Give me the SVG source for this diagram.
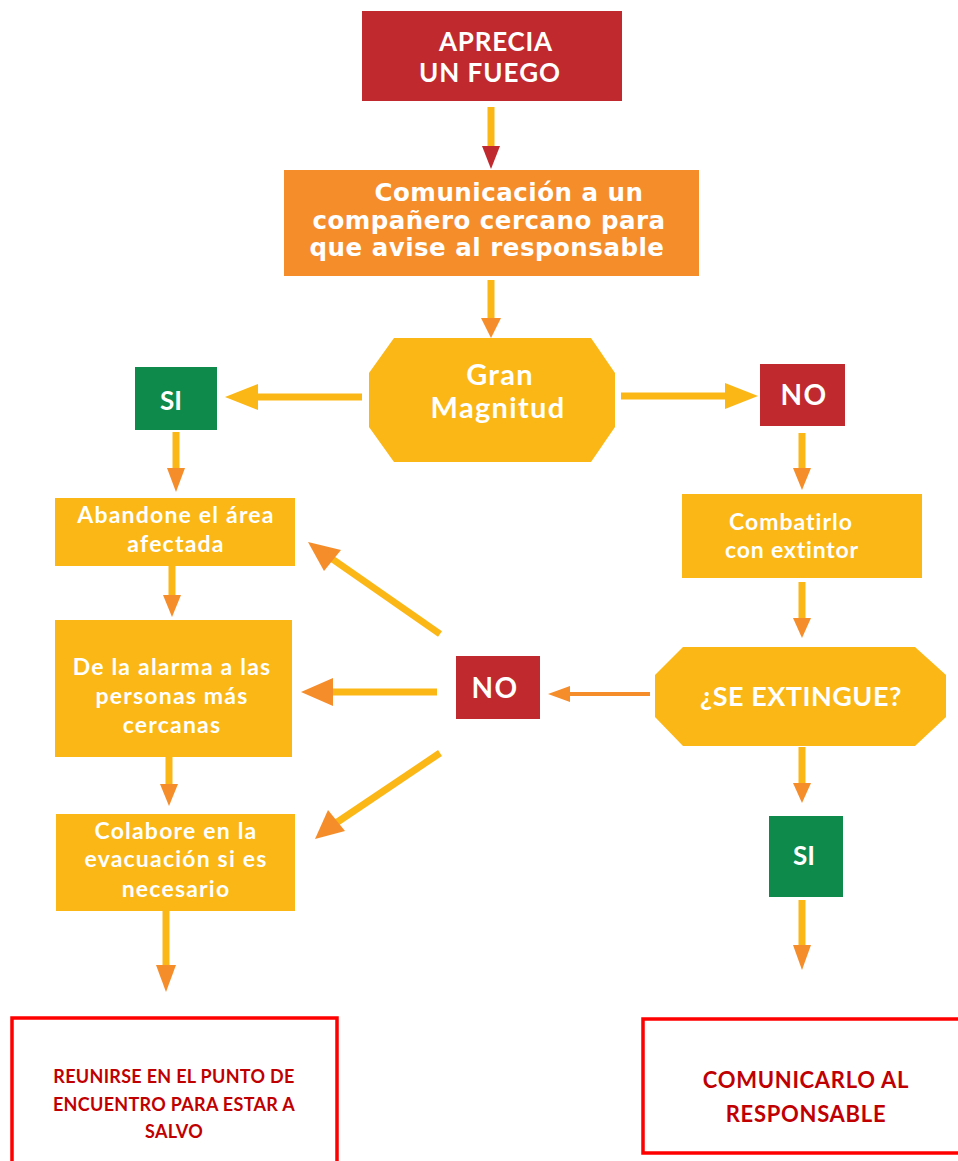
<svg xmlns="http://www.w3.org/2000/svg" width="958" height="1161" viewBox="0 0 958 1161">
<style>
.red{fill:#C0292E}
.org{fill:#F58D2B}
.yel{fill:#FBB715}
.grn{fill:#0E8A4A}
.out{fill:#fff;stroke:#FF0000;stroke-width:3.5}
.t{font-family:Lato,"Open Sans","Liberation Sans",sans-serif;font-weight:bold;fill:#fff;text-anchor:middle}
.b{font-size:23px;letter-spacing:1.2px}
.tv{font-family:"DejaVu Sans","Liberation Sans",sans-serif;font-weight:bold;fill:#fff;text-anchor:middle;font-size:24.5px;letter-spacing:0.5px}
.tr{font-family:Lato,"Liberation Sans",sans-serif;font-weight:bold;fill:#C00000;text-anchor:middle}
.sh{stroke:#FBB715;stroke-width:7;fill:none}
.sho{stroke:#F58D2B;stroke-width:4;fill:none}
.hy{fill:#FBB715}
.ho{fill:#F58D2B}
.hr{fill:#C0292E}
</style>
<rect width="958" height="1161" fill="#fff"/>
<g id="connectors">
  <line class="sh" x1="491" y1="107" x2="491" y2="147"/>
  <polygon class="hr" points="482,146 500,146 491,169"/>
  <line class="sh" x1="491" y1="280" x2="491" y2="320"/>
  <polygon class="ho" points="481,318 501,318 491,338"/>
  <line class="sh" x1="362" y1="397" x2="256" y2="397"/>
  <polygon class="hy" points="258,384 258,410 225,397"/>
  <line class="sh" x1="621" y1="396" x2="727" y2="396"/>
  <polygon class="hy" points="725,383 725,409 758,396"/>
  <line class="sh" x1="802" y1="433" x2="802" y2="470"/>
  <polygon class="ho" points="793,468 811,468 802,490"/>
  <line class="sh" x1="802" y1="582" x2="802" y2="620"/>
  <polygon class="ho" points="793,618 811,618 802,638"/>
  <line class="sho" x1="650" y1="694" x2="568" y2="694"/>
  <polygon class="ho" points="570,686 570,702 548,694"/>
  <line class="sh" x1="802" y1="747" x2="802" y2="785"/>
  <polygon class="ho" points="793,783 811,783 802,803"/>
  <line class="sh" x1="802" y1="900" x2="802" y2="947"/>
  <polygon class="ho" points="793,945 811,945 802,970"/>
  <line class="sh" x1="440" y1="634" x2="328" y2="556"/>
  <polygon class="ho" points="341,550 324,571 308,542"/>
  <line class="sh" x1="437" y1="692" x2="331" y2="692"/>
  <polygon class="ho" points="333,678 333,706 301,692"/>
  <line class="sh" x1="440" y1="753" x2="333" y2="825"/>
  <polygon class="ho" points="328,810 345,831 315,839"/>
  <line class="sh" x1="176" y1="432" x2="176" y2="470"/>
  <polygon class="ho" points="167,468 185,468 176,492"/>
  <line class="sh" x1="172" y1="566" x2="172" y2="597"/>
  <polygon class="ho" points="163,595 181,595 172,617"/>
  <line class="sh" x1="169" y1="757" x2="169" y2="786"/>
  <polygon class="ho" points="160,784 178,784 169,806"/>
  <line class="sh" x1="166" y1="911" x2="166" y2="967"/>
  <polygon class="ho" points="156,965 176,965 166,992"/>
</g>
<g id="aprecia">
  <rect class="red" x="362" y="11" width="260" height="90"/>
  <text class="t" x="496" y="51" font-size="26" letter-spacing="0.8">APRECIA</text>
  <text class="t" x="490" y="82" font-size="26" letter-spacing="1">UN FUEGO</text>
</g>
<g id="comunicacion">
  <rect class="org" x="284" y="170" width="415" height="106"/>
  <text class="tv" x="509" y="201">Comunicación a un</text>
  <text class="tv" x="489" y="229">compañero cercano para</text>
  <text class="tv" x="487" y="256">que avise al responsable</text>
</g>
<g id="gran-magnitud">
  <polygon class="yel" points="394,338 591,338 615,373 615,427 591,462 394,462 369,427 369,373"/>
  <text class="t" x="500" y="385" font-size="29" letter-spacing="1.3">Gran</text>
  <text class="t" x="498" y="418" font-size="29" letter-spacing="1.3">Magnitud</text>
</g>
<g id="si-left">
  <rect class="grn" x="135" y="367" width="82" height="63"/>
  <text class="t" x="171" y="410" font-size="26">SI</text>
</g>
<g id="no-right">
  <rect class="red" x="760" y="364" width="85" height="62"/>
  <text class="t" x="804" y="405" font-size="28" letter-spacing="1.5">NO</text>
</g>
<g id="combatirlo">
  <rect class="yel" x="682" y="494" width="240" height="84"/>
  <text class="t" x="791" y="530" font-size="23" letter-spacing="1">Combatirlo</text>
  <text class="t" x="792" y="558" font-size="23" letter-spacing="0.8">con extintor</text>
</g>
<g id="se-extingue">
  <polygon class="yel" points="683,647 915,647 946,675 946,717 915,746 683,746 655,717 655,675"/>
  <text class="t" x="801" y="706" font-size="27" letter-spacing="0.5">¿SE EXTINGUE?</text>
</g>
<g id="no-mid">
  <rect class="red" x="456" y="656" width="84" height="63"/>
  <text class="t" x="495" y="698" font-size="28" letter-spacing="1.5">NO</text>
</g>
<g id="si-right">
  <rect class="grn" x="769" y="816" width="74" height="81"/>
  <text class="t" x="804" y="865" font-size="26">SI</text>
</g>
<g id="abandone">
  <rect class="yel" x="55" y="498" width="240" height="68"/>
  <text class="t b" x="176" y="523">Abandone el área</text>
  <text class="t b" x="176" y="552">afectada</text>
</g>
<g id="alarma">
  <rect class="yel" x="55" y="620" width="237" height="137"/>
  <text class="t b" x="172" y="675">De la alarma a las</text>
  <text class="t b" x="172" y="704">personas más</text>
  <text class="t b" x="172" y="733">cercanas</text>
</g>
<g id="colabore">
  <rect class="yel" x="56" y="814" width="239" height="97"/>
  <text class="t b" x="176" y="839">Colabore en la</text>
  <text class="t b" x="176" y="867">evacuación si es</text>
  <text class="t b" x="176" y="897">necesario</text>
</g>
<g id="reunirse">
  <rect class="out" x="12" y="1018" width="325" height="160"/>
  <text class="tr" x="174" y="1083" font-size="18" letter-spacing="0.3">REUNIRSE EN EL PUNTO DE</text>
  <text class="tr" x="174" y="1111" font-size="18" letter-spacing="0.3">ENCUENTRO PARA ESTAR A</text>
  <text class="tr" x="174" y="1138" font-size="18" letter-spacing="0.3">SALVO</text>
</g>
<g id="comunicarlo">
  <rect class="out" x="643" y="1019" width="330" height="134"/>
  <text class="tr" x="806" y="1088" font-size="22" letter-spacing="0.7">COMUNICARLO AL</text>
  <text class="tr" x="806" y="1122" font-size="22" letter-spacing="0.7">RESPONSABLE</text>
</g>
</svg>
